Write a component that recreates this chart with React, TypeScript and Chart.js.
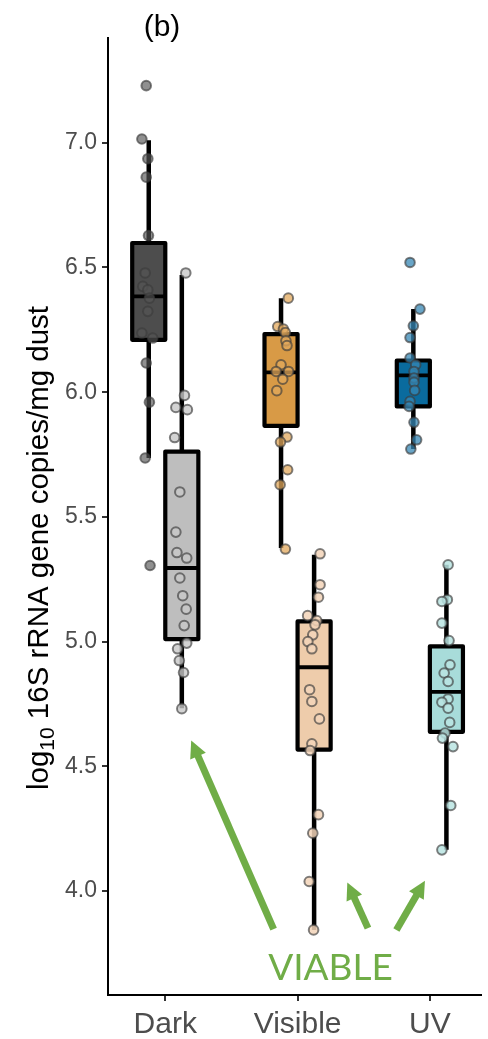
import React, { useEffect, useRef } from "react";
import { Chart, registerables } from "chart.js";

Chart.register(...registerables);

// ---------------- data ----------------
const categories = ["Dark", "Visible", "UV"];
const yTickValues = [4.0, 4.5, 5.0, 5.5, 6.0, 6.5, 7.0];

// box statistics: [lower whisker, Q1, median, Q3, upper whisker]
const totalBoxes = [
  [5.736, 6.21, 6.384, 6.598, 7.01],
  [5.375, 5.865, 6.079, 6.233, 6.377],
  [5.772, 5.943, 6.067, 6.127, 6.333],
];
const viableBoxes = [
  [4.733, 5.01, 5.295, 5.762, 6.47],
  [3.844, 4.567, 4.897, 5.081, 5.348],
  [4.165, 4.638, 4.798, 4.981, 5.308],
];

// observations (log10 copies/mg dust)
const darkTotal = [7.229, 7.015, 6.936, 6.862, 6.628, 6.478, 6.424, 6.41, 6.377, 6.324, 6.237, 6.217, 6.117, 5.96, 5.736, 5.305];
const darkViable = [6.478, 5.987, 5.939, 5.93, 5.818, 5.6, 5.439, 5.357, 5.335, 5.255, 5.184, 5.13, 5.064, 4.994, 4.971, 4.924, 4.876, 4.731];
const visibleTotal = [6.377, 6.263, 6.253, 6.239, 6.206, 6.187, 6.11, 6.083, 6.083, 6.052, 6.006, 5.82, 5.8, 5.689, 5.629, 5.371];
const visibleViable = [5.352, 5.228, 5.178, 5.104, 5.084, 5.067, 5.027, 5.0, 4.971, 4.807, 4.76, 4.69, 4.59, 4.563, 4.306, 4.232, 4.038, 3.844];
const uvTotal = [6.52, 6.333, 6.266, 6.219, 6.137, 6.11, 6.083, 6.057, 6.04, 6.007, 5.963, 5.943, 5.879, 5.809, 5.772];
const uvViable = [5.308, 5.168, 5.161, 5.074, 5.004, 4.907, 4.874, 4.84, 4.77, 4.757, 4.733, 4.676, 4.633, 4.613, 4.579, 4.343, 4.165];

const darkTotalJitter = [-0.019, -0.052, -0.007, -0.019, -0.002, -0.027, -0.045, -0.007, 0.005, -0.007, -0.052, 0.03, -0.019, 0.005, -0.027, 0.01];
const darkViableJitter = [0.03, 0.02, -0.045, 0.042, -0.054, -0.015, -0.045, -0.037, 0.037, -0.015, 0.007, 0.033, 0.018, 0.037, -0.032, -0.019, 0.013, 0.0];
const visibleTotalJitter = [0.055, -0.025, 0.018, 0.033, 0.037, 0.045, 0.0, -0.037, 0.057, 0.013, -0.032, 0.045, -0.004, 0.05, -0.007, 0.033];
const visibleViableJitter = [0.045, 0.045, 0.033, -0.049, 0.02, 0.007, -0.01, -0.047, -0.017, -0.034, -0.017, 0.04, -0.017, -0.03, 0.033, -0.01, -0.037, -0.004];
const uvTotalJitter = [-0.025, 0.05, 0.0, -0.025, -0.025, 0.018, 0.005, 0.005, 0.005, 0.01, -0.025, -0.032, 0.005, 0.025, -0.019];
const uvViableJitter = [0.013, 0.007, -0.034, -0.034, 0.02, 0.027, -0.017, 0.013, 0.013, -0.034, 0.013, 0.025, -0.01, -0.03, 0.05, 0.033, -0.034];

const totalColors = ["#4D4D4D", "#D89A46", "#0A6B9E"];
const viableColors = ["#BEBEBE", "#EECCAB", "#A8DCDA"];
const pointFillTotal = ["rgba(85,85,85,0.65)", "rgba(226,168,92,0.75)", "rgba(55,135,180,0.75)"];
const pointFillViable = ["rgba(200,200,200,0.8)", "rgba(242,212,184,0.85)", "rgba(186,228,226,0.85)"];

const DODGE = 0.125;
const HALF_BOX = 0.125;
const GREEN = "#70AD47";

const boxPlugin = {
  id: "boxes",
  beforeDatasetsDraw(chart: any) {
    const { ctx, scales } = chart;
    const xs = scales.x;
    const ys = scales.y;
    const drawBox = (center: number, stats: number[], fill: string) => {
      const [lo, q1, med, q3, hi] = stats;
      const xc = xs.getPixelForValue(center);
      const xl = xs.getPixelForValue(center - HALF_BOX);
      const xr = xs.getPixelForValue(center + HALF_BOX);
      ctx.save();
      ctx.strokeStyle = "#000";
      ctx.lineWidth = 4.5;
      ctx.lineCap = "butt";
      ctx.beginPath();
      ctx.moveTo(xc, ys.getPixelForValue(hi));
      ctx.lineTo(xc, ys.getPixelForValue(lo));
      ctx.stroke();
      const yTop = ys.getPixelForValue(q3);
      const yBot = ys.getPixelForValue(q1);
      ctx.fillStyle = fill;
      ctx.fillRect(xl, yTop, xr - xl, yBot - yTop);
      ctx.lineWidth = 4.2;
      ctx.lineJoin = "round";
      ctx.strokeRect(xl, yTop, xr - xl, yBot - yTop);
      ctx.lineWidth = 3.8;
      ctx.beginPath();
      const ym = ys.getPixelForValue(med);
      ctx.moveTo(xl, ym);
      ctx.lineTo(xr, ym);
      ctx.stroke();
      ctx.restore();
    };
    categories.forEach((_, i) => {
      drawBox(i + 1 - DODGE, totalBoxes[i], totalColors[i]);
      drawBox(i + 1 + DODGE, viableBoxes[i], viableColors[i]);
    });
  },
};

// annotation positions in data units
const arrows = [
  { from: [1.819, 3.847], to: [1.196, 4.603] },
  { from: [2.532, 3.851], to: [2.376, 4.034] },
  { from: [2.747, 3.844], to: [2.963, 4.041] },
];
const viableLabel = { x: 2.234, y: 3.692, text: "VIABLE" };

const annotationPlugin = {
  id: "annotations",
  afterDraw(chart: any) {
    const { ctx, scales, chartArea } = chart;
    const xs = scales.x;
    const ys = scales.y;
    ctx.save();
    // arrows
    ctx.strokeStyle = GREEN;
    ctx.fillStyle = GREEN;
    arrows.forEach((a) => {
      const x0 = xs.getPixelForValue(a.from[0]);
      const y0 = ys.getPixelForValue(a.from[1]);
      const x1 = xs.getPixelForValue(a.to[0]);
      const y1 = ys.getPixelForValue(a.to[1]);
      const ang = Math.atan2(y1 - y0, x1 - x0);
      const headLen = 17;
      const headHalf = 8.5;
      const bx = x1 - headLen * Math.cos(ang);
      const by = y1 - headLen * Math.sin(ang);
      ctx.lineWidth = 7;
      ctx.lineCap = "butt";
      ctx.beginPath();
      ctx.moveTo(x0, y0);
      ctx.lineTo(bx + Math.cos(ang) * 2, by + Math.sin(ang) * 2);
      ctx.stroke();
      ctx.beginPath();
      ctx.moveTo(x1, y1);
      ctx.lineTo(bx + headHalf * Math.sin(ang), by - headHalf * Math.cos(ang));
      ctx.lineTo(bx - headHalf * Math.sin(ang), by + headHalf * Math.cos(ang));
      ctx.closePath();
      ctx.fill();
    });
    // VIABLE text
    ctx.font = '37px Lato, "Open Sans", sans-serif';
    ctx.textAlign = "center";
    ctx.textBaseline = "middle";
    ctx.fillText(viableLabel.text, xs.getPixelForValue(viableLabel.x) + 2, ys.getPixelForValue(viableLabel.y));

    // panel tag
    ctx.fillStyle = "#000";
    ctx.font = '30px "Liberation Sans", Arial, sans-serif';
    ctx.textAlign = "center";
    ctx.textBaseline = "alphabetic";
    ctx.fillText("(b)", chartArea.left + 54, 36);

    // y axis title with subscript
    const fontSize = 29.5;
    const main = `${fontSize}px "Liberation Sans", Arial, sans-serif`;
    const sub = `${Math.round(fontSize * 0.72)}px "Liberation Sans", Arial, sans-serif`;
    const p1 = "log";
    const p2 = "10";
    const p3 = " 16S rRNA gene copies/mg dust";
    ctx.font = main;
    const w1 = ctx.measureText(p1).width;
    const w3 = ctx.measureText(p3).width;
    ctx.font = sub;
    const w2 = ctx.measureText(p2).width;
    const total = w1 + w2 + w3;
    ctx.translate(48, 548);
    ctx.rotate(-Math.PI / 2);
    ctx.textAlign = "left";
    let x = -total / 2;
    ctx.font = main;
    ctx.fillText(p1, x, 0);
    x += w1;
    ctx.font = sub;
    ctx.fillText(p2, x, fontSize * 0.22);
    x += w2;
    ctx.font = main;
    ctx.fillText(p3, x, 0);
    ctx.restore();
  },
};

function makeSeries(values: number[], jitter: number[], center: number) {
  return values.map((v, i) => ({ x: center + jitter[i], y: v }));
}

export default function App() {
  const canvasRef = useRef<HTMLCanvasElement | null>(null);

  useEffect(() => {
    if (!canvasRef.current) return;
    const groups = [
      { vals: darkTotal, jit: darkTotalJitter, c: 1 - DODGE, fill: pointFillTotal[0] },
      { vals: darkViable, jit: darkViableJitter, c: 1 + DODGE, fill: pointFillViable[0] },
      { vals: visibleTotal, jit: visibleTotalJitter, c: 2 - DODGE, fill: pointFillTotal[1] },
      { vals: visibleViable, jit: visibleViableJitter, c: 2 + DODGE, fill: pointFillViable[1] },
      { vals: uvTotal, jit: uvTotalJitter, c: 3 - DODGE, fill: pointFillTotal[2] },
      { vals: uvViable, jit: uvViableJitter, c: 3 + DODGE, fill: pointFillViable[2] },
    ];
    const chart = new Chart(canvasRef.current, {
      type: "scatter",
      data: {
        datasets: groups.map((g) => ({
          data: makeSeries(g.vals, g.jit, g.c),
          backgroundColor: g.fill,
          borderColor: "rgba(60,60,60,0.65)",
          borderWidth: 2,
          pointRadius: 4.8,
          pointHoverRadius: 4.8,
        })),
      },
      options: {
        responsive: false,
        animation: false,
        events: [],
        layout: { padding: { top: 38, left: 0, right: 0, bottom: 0 } },
        plugins: {
          legend: { display: false },
          tooltip: { enabled: false },
          title: { display: false },
        },
        scales: {
          x: {
            type: "linear",
            min: 0.567,
            max: 3.388,
            afterBuildTicks: (scale: any) => {
              scale.ticks = categories.map((_, i) => ({ value: i + 1 }));
            },
            afterFit: (scale: any) => {
              scale.height = 44;
            },
            ticks: {
              callback: (v: any) => categories[Math.round(Number(v)) - 1] ?? "",
              color: "#4D4D4D",
              font: { family: '"Liberation Sans", Arial, sans-serif', size: 30 },
              padding: 6,
              maxRotation: 0,
              autoSkip: false,
            },
            grid: { drawOnChartArea: false, drawTicks: true, tickLength: 6, color: "#333", lineWidth: 2 },
            border: { display: true, color: "#000", width: 2 },
          },
          y: {
            type: "linear",
            min: 3.583,
            max: 7.42,
            afterBuildTicks: (scale: any) => {
              scale.ticks = yTickValues.map((v) => ({ value: v }));
            },
            afterFit: (scale: any) => {
              scale.width = 108;
            },
            ticks: {
              callback: (v: any) => Number(v).toFixed(1),
              color: "#4D4D4D",
              font: { family: '"Liberation Sans", Arial, sans-serif', size: 23 },
              padding: 5,
            },
            grid: { drawOnChartArea: false, drawTicks: true, tickLength: 6, color: "#333", lineWidth: 2 },
            border: { display: true, color: "#000", width: 2 },
          },
        },
      },
      plugins: [boxPlugin, annotationPlugin],
    });
    return () => chart.destroy();
  }, []);

  return (
    <div style={{ position: "absolute", left: 0, top: 0, width: 488, height: 1039, background: "#fff" }}>
      <canvas ref={canvasRef} width={488} height={1039} style={{ display: "block" }} />
    </div>
  );
}
